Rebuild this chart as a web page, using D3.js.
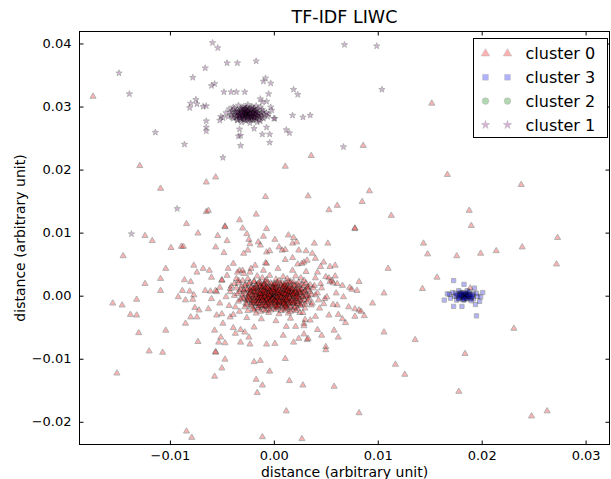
<!DOCTYPE html>
<html lang="en">
<head>
<meta charset="UTF-8">
<title>TF-IDF LIWC</title>
<script src="https://d3js.org/d3.v7.min.js"></script>
<style>
  body { margin: 0; background: #fff; }
  text { font-family: "DejaVu Sans", sans-serif; }
</style>
</head>
<body>
<script>
// tick labels
const xTicks = [-0.01, 0.00, 0.01, 0.02, 0.03];
const yTicks = [-0.02, -0.01, 0.00, 0.01, 0.02, 0.03, 0.04];
const legendNames = ["cluster 0", "cluster 3", "cluster 2", "cluster 1"];

// cluster 0 (red triangles): dense core, halo, spread and outliers
const cluster0 = [
  [-0.0016,0.0031],[-0.0004,0.0032],[0.0009,0.0030],[0.0021,0.0031],
  [-0.0025,0.0027],[-0.0011,0.0028],[0.0002,0.0026],[0.0013,0.0027],[0.0026,0.0028],
  [-0.0030,0.0024],[-0.0019,0.0023],[-0.0007,0.0025],[0.0005,0.0024],[0.0016,0.0023],[0.0029,0.0024],
  [-0.0034,0.0020],[-0.0023,0.0021],[-0.0014,0.0022],[-0.0003,0.0020],[0.0008,0.0021],[0.0019,0.0022],[0.0031,0.0020],
  [-0.0027,0.0018],[-0.0017,0.0017],[-0.0009,0.0019],[0.0000,0.0018],[0.0011,0.0017],[0.0022,0.0018],[0.0035,0.0017],
  [-0.0031,0.0015],[-0.0021,0.0014],[-0.0013,0.0016],[-0.0005,0.0015],[0.0004,0.0014],[0.0013,0.0016],[0.0024,0.0015],[0.0033,0.0014],
  [-0.0036,0.0012],[-0.0025,0.0011],[-0.0016,0.0013],[-0.0008,0.0012],[0.0001,0.0011],[0.0009,0.0013],[0.0017,0.0012],[0.0027,0.0011],[0.0038,0.0012],
  [-0.0029,0.0009],[-0.0020,0.0008],[-0.0012,0.0010],[-0.0004,0.0009],[0.0005,0.0008],[0.0013,0.0010],[0.0021,0.0009],[0.0030,0.0008],
  [-0.0033,0.0006],[-0.0023,0.0005],[-0.0015,0.0007],[-0.0007,0.0006],[0.0001,0.0005],[0.0009,0.0007],[0.0017,0.0006],[0.0025,0.0005],[0.0035,0.0006],
  [-0.0027,0.0003],[-0.0018,0.0002],[-0.0010,0.0004],[-0.0002,0.0003],[0.0006,0.0002],[0.0014,0.0004],[0.0022,0.0003],[0.0031,0.0002],
  [-0.0038,0.0000],[-0.0024,-0.0001],[-0.0014,0.0001],[-0.0006,0.0000],[0.0003,-0.0001],[0.0011,0.0001],[0.0019,0.0000],[0.0028,-0.0001],[0.0040,0.0001],
  [-0.0030,-0.0003],[-0.0019,-0.0004],[-0.0011,-0.0002],[-0.0003,-0.0003],[0.0007,-0.0004],[0.0015,-0.0002],[0.0024,-0.0003],[0.0034,-0.0004],
  [-0.0026,-0.0006],[-0.0016,-0.0007],[-0.0008,-0.0005],[0.0000,-0.0006],[0.0009,-0.0007],[0.0018,-0.0005],[0.0029,-0.0006],
  [-0.0034,-0.0009],[-0.0021,-0.0010],[-0.0012,-0.0008],[-0.0004,-0.0009],[0.0005,-0.0010],[0.0013,-0.0008],[0.0022,-0.0009],[0.0032,-0.0010],
  [-0.0027,-0.0012],[-0.0017,-0.0013],[-0.0008,-0.0011],[0.0001,-0.0012],[0.0010,-0.0013],[0.0019,-0.0011],[0.0027,-0.0012],
  [-0.0022,-0.0015],[-0.0012,-0.0016],[-0.0003,-0.0014],[0.0006,-0.0015],[0.0015,-0.0016],[0.0025,-0.0014],[0.0036,-0.0015],
  [-0.0028,-0.0018],[-0.0016,-0.0019],[-0.0007,-0.0017],[0.0003,-0.0018],[0.0012,-0.0019],[0.0021,-0.0017],
  [-0.0020,-0.0021],[-0.0010,-0.0022],[0.0000,-0.0020],[0.0009,-0.0021],[0.0018,-0.0022],[0.0030,-0.0020],
  [-0.0025,-0.0024],[-0.0013,-0.0025],[-0.0003,-0.0023],[0.0007,-0.0024],[0.0016,-0.0025],
  [-0.0017,-0.0028],[-0.0005,-0.0027],[0.0005,-0.0029],[0.0014,-0.0028],[0.0025,-0.0027],
  [-0.0012,0.0013],[-0.0003,0.0013],[0.0006,0.0012],[0.0015,0.0013],
  [-0.0016,0.0010],[-0.0007,0.0010],[0.0002,0.0009],[0.0011,0.0010],
  [-0.0011,0.0007],[-0.0002,0.0007],[0.0007,0.0006],[0.0014,0.0007],
  [-0.0014,0.0004],[-0.0005,0.0004],[0.0004,0.0003],[0.0012,0.0004],[0.0019,0.0004],
  [-0.0009,0.0001],[0.0000,0.0001],[0.0008,0.0000],[0.0016,0.0001],
  [-0.0015,-0.0002],[-0.0006,-0.0002],[0.0003,-0.0002],[0.0011,-0.0003],
  [-0.0011,-0.0005],[-0.0002,-0.0005],[0.0006,-0.0005],[0.0014,-0.0006],
  [-0.0014,-0.0008],[-0.0005,-0.0008],[0.0003,-0.0008],[0.0012,-0.0009],
  [-0.0009,-0.0011],[0.0000,-0.0011],[0.0008,-0.0011],[0.0016,-0.0012],
  [-0.0005,-0.0014],[0.0004,-0.0014],
  [-0.0019,0.0022],[-0.0008,0.0023],[0.0003,0.0021],[0.0014,0.0022],[0.0024,0.0021],
  [-0.0024,0.0019],[-0.0013,0.0020],[-0.0002,0.0018],[0.0006,0.0019],[0.0016,0.0020],[0.0027,0.0018],
  [-0.0028,0.0016],[-0.0017,0.0015],[-0.0009,0.0017],[0.0001,0.0016],[0.0009,0.0015],[0.0019,0.0017],[0.0029,0.0016],
  [-0.0022,0.0013],[-0.0011,0.0012],[-0.0001,0.0014],[0.0012,0.0013],[0.0022,0.0012],[0.0032,0.0013],
  [-0.0026,0.0010],[-0.0018,0.0011],[-0.0009,0.0009],[0.0000,0.0010],[0.0008,0.0011],[0.0017,0.0009],[0.0026,0.0010],
  [-0.0029,0.0007],[-0.0019,0.0006],[-0.0004,0.0008],[0.0004,0.0007],[0.0012,0.0006],[0.0021,0.0008],[0.0030,0.0007],
  [-0.0023,0.0004],[-0.0013,0.0003],[-0.0007,0.0005],[0.0001,0.0004],[0.0009,0.0003],[0.0017,0.0005],[0.0026,0.0004],
  [-0.0030,0.0001],[-0.0019,0.0000],[-0.0011,0.0002],[-0.0003,0.0001],[0.0006,0.0000],[0.0014,0.0002],[0.0023,0.0001],[0.0033,0.0000],
  [-0.0025,-0.0002],[-0.0014,-0.0003],[-0.0008,-0.0001],[0.0000,-0.0002],[0.0009,-0.0003],[0.0019,-0.0001],[0.0028,-0.0002],
  [-0.0029,-0.0005],[-0.0021,-0.0006],[-0.0013,-0.0004],[-0.0005,-0.0005],[0.0004,-0.0006],[0.0012,-0.0004],[0.0022,-0.0005],
  [-0.0025,-0.0008],[-0.0017,-0.0009],[-0.0008,-0.0007],[0.0001,-0.0008],[0.0009,-0.0009],[0.0018,-0.0007],[0.0027,-0.0008],
  [-0.0021,-0.0011],[-0.0013,-0.0012],[-0.0004,-0.0010],[0.0005,-0.0011],[0.0014,-0.0012],[0.0023,-0.0010],
  [-0.0026,-0.0014],[-0.0016,-0.0013],[-0.0008,-0.0015],[0.0001,-0.0014],[0.0011,-0.0015],[0.0020,-0.0013],[0.0030,-0.0014],
  [-0.0021,-0.0017],[-0.0011,-0.0018],[-0.0002,-0.0016],[0.0008,-0.0017],[0.0016,-0.0018],[0.0026,-0.0016],
  [-0.0015,-0.0020],[-0.0005,-0.0021],[0.0004,-0.0019],[0.0013,-0.0020],[0.0023,-0.0021],
  [-0.0019,-0.0023],[-0.0008,-0.0024],[0.0002,-0.0022],[0.0011,-0.0023],[0.0021,-0.0024],
  [-0.0019,0.0012],[-0.0010,0.0015],[-0.0001,0.0012],[0.0007,0.0016],[0.0016,0.0014],[0.0024,0.0010],
  [-0.0022,0.0007],[-0.0013,0.0008],[-0.0005,0.0011],[0.0003,0.0008],[0.0011,0.0009],[0.0020,0.0007],[0.0028,0.0005],
  [-0.0024,0.0002],[-0.0016,0.0005],[-0.0008,0.0003],[0.0000,0.0006],[0.0008,0.0004],[0.0015,0.0006],[0.0025,0.0002],
  [-0.0020,-0.0002],[-0.0012,0.0000],[-0.0004,-0.0001],[0.0005,0.0001],[0.0013,-0.0001],[0.0021,-0.0002],[0.0031,-0.0001],
  [-0.0023,-0.0007],[-0.0015,-0.0005],[-0.0007,-0.0007],[0.0002,-0.0004],[0.0010,-0.0006],[0.0017,-0.0008],[0.0025,-0.0006],
  [-0.0019,-0.0012],[-0.0010,-0.0009],[-0.0002,-0.0012],[0.0007,-0.0010],[0.0015,-0.0010],[0.0023,-0.0013],
  [-0.0014,-0.0016],[-0.0005,-0.0018],[0.0004,-0.0016],[0.0012,-0.0015],[0.0020,-0.0019],
  [-0.0015,0.0019],[-0.0006,0.0021],[0.0003,0.0017],[0.0012,0.0020],[0.0020,0.0016],
  [-0.0032,0.0010],[-0.0035,0.0003],[-0.0032,-0.0006],[0.0033,0.0010],[0.0036,0.0002],[0.0033,-0.0007],
  [-0.0009,0.0005],[-0.0003,0.0002],[0.0004,-0.0003],[0.0010,0.0003],[-0.0006,-0.0004],[0.0006,0.0005],
  [0.0001,-0.0007],[-0.0001,0.0009],[0.0013,-0.0004],[-0.0012,-0.0003],[-0.0017,0.0001],[0.0018,0.0002],
  [-0.0007,0.0014],[0.0009,-0.0013],[-0.0011,-0.0014],[0.0014,0.0011],
  [-0.0020,0.0011],[-0.0013,0.0014],[-0.0006,0.0012],[0.0002,0.0013],[0.0010,0.0014],[0.0018,0.0011],
  [-0.0018,0.0006],[-0.0010,0.0008],[-0.0003,0.0006],[0.0005,0.0009],[0.0013,0.0008],[0.0021,0.0005],
  [-0.0021,0.0001],[-0.0013,0.0003],[-0.0005,0.0002],[0.0003,0.0004],[0.0011,0.0002],[0.0019,0.0003],
  [-0.0017,-0.0003],[-0.0009,-0.0002],[-0.0001,-0.0004],[0.0007,-0.0002],[0.0015,-0.0003],[0.0022,-0.0001],
  [-0.0019,-0.0008],[-0.0011,-0.0007],[-0.0003,-0.0007],[0.0005,-0.0008],[0.0012,-0.0007],[0.0020,-0.0009],
  [-0.0015,-0.0011],[-0.0006,-0.0012],[0.0002,-0.0010],[0.0010,-0.0012],[0.0018,-0.0012],
  [-0.0010,0.0018],[0.0001,0.0019],[0.0010,0.0018],[-0.0008,-0.0016],[0.0002,-0.0017],[0.0011,-0.0017],
  [-0.0023,0.0009],[0.0023,-0.0004],[-0.0024,-0.0004],[0.0024,0.0007],
  [-0.0045,0.0032],[-0.0041,0.0015],[-0.0046,-0.0002],[-0.0043,-0.0016],[-0.0039,-0.0030],[-0.0033,0.0040],
  [-0.0022,0.0043],[-0.0010,0.0040],[0.0004,0.0043],[0.0018,0.0040],[0.0031,0.0038],[0.0040,0.0028],
  [0.0046,0.0012],[0.0049,-0.0005],[0.0044,-0.0020],[0.0040,-0.0033],[0.0030,-0.0038],[0.0016,-0.0036],
  [0.0002,-0.0040],[-0.0012,-0.0037],[-0.0026,-0.0035],[-0.0050,0.0024],[-0.0055,0.0006],[-0.0052,-0.0012],
  [0.0054,0.0022],[0.0057,-0.0014],[-0.0036,0.0027],[0.0039,0.0016],[0.0037,-0.0012],[-0.0037,-0.0018],
  [-0.0008,0.0052],[0.0012,-0.0049],[0.0023,0.0050],[-0.0019,-0.0050],[0.0060,0.0004],[-0.0060,-0.0005],
  [0.0028,-0.0027],[-0.0033,-0.0025],[0.0042,0.0004],[-0.0042,0.0006],
  [-0.0026,0.0098],[-0.0010,0.0094],[0.0014,0.0096],[0.0019,0.0092],[0.0022,0.0085],[0.0018,0.0083],
  [0.0078,0.0106],[-0.0045,0.0087],[-0.0024,0.0089],[-0.0023,0.0082],[-0.0015,0.0085],[-0.0013,0.0080],
  [0.0001,0.0089],[0.0005,0.0077],[0.0039,0.0083],[0.0052,0.0083],
  [-0.0056,0.0077],[-0.0048,0.0068],[-0.0029,0.0067],[-0.0025,0.0072],[-0.0007,0.0069],[-0.0004,0.0071],
  [0.0008,0.0072],[0.0011,0.0073],[0.0024,0.0072],[0.0031,0.0071],[0.0037,0.0067],
  [-0.0077,0.0048],[-0.0074,0.0037],[-0.0086,0.0025],[-0.0080,0.0022],[-0.0092,-0.0002],[-0.0085,-0.0007],
  [-0.0078,-0.0006],[-0.0077,0.0001],[-0.0088,0.0008],[-0.0081,0.0007],[-0.0066,0.0008],[-0.0061,0.0007],[-0.0056,0.0008],
  [-0.0068,0.0043],[-0.0062,0.0040],[-0.0060,0.0029],[-0.0050,0.0025],[-0.0052,0.0013],[-0.0044,0.0043],
  [-0.0039,0.0051],[-0.0035,0.0037],[-0.0030,0.0040],[-0.0038,0.0019],[-0.0042,0.0011],[-0.0034,0.0024],
  [-0.0076,-0.0019],[-0.0072,-0.0023],[-0.0063,-0.0021],[-0.0080,-0.0034],[-0.0085,-0.0044],[-0.0074,-0.0034],
  [-0.0055,-0.0031],[-0.0050,-0.0029],[-0.0042,-0.0034],[-0.0049,-0.0044],
  [-0.0057,-0.0055],[-0.0051,-0.0066],[-0.0047,-0.0075],[-0.0053,-0.0074],[-0.0039,-0.0051],[-0.0032,-0.0054],
  [-0.0037,-0.0060],[-0.0028,-0.0058],[-0.0032,-0.0074],[-0.0024,-0.0066],[-0.0023,-0.0077],[-0.0056,-0.0089],
  [-0.0007,-0.0077],[0.0001,-0.0076],[0.0009,-0.0063],[0.0019,-0.0074],[0.0024,-0.0068],[0.0032,-0.0070],
  [0.0021,-0.0049],[0.0029,-0.0044],[0.0035,-0.0039],[0.0042,-0.0054],[0.0046,-0.0063],[0.0050,-0.0081],
  [0.0058,-0.0055],[0.0062,-0.0066],[0.0053,-0.0031],[0.0066,-0.0037],[0.0069,-0.0043],[0.0078,-0.0033],
  [0.0082,-0.0023],[0.0072,-0.0018],[0.0078,-0.0021],[0.0084,-0.0025],[0.0061,-0.0015],[0.0048,-0.0013],
  [0.0043,-0.0007],[0.0051,-0.0002],[0.0067,-0.0002],[0.0073,0.0013],[0.0075,0.0010],[0.0080,0.0008],[0.0082,0.0022],
  [0.0059,0.0048],[0.0066,0.0016],[0.0061,0.0019],[0.0056,0.0024],[0.0048,0.0053],[0.0050,0.0030],
  [0.0042,0.0037],[0.0045,0.0019],[0.0032,0.0056],[0.0040,0.0059],[0.0045,0.0046],[0.0018,0.0060],
  [0.0027,0.0051],[0.0011,0.0057],[-0.0007,0.0051],[-0.0018,0.0048],[-0.0023,0.0037],[-0.0029,0.0035],
  [0.0054,0.0046],[0.0029,0.0053],[0.0053,0.0028],[0.0059,0.0031],[0.0057,0.0020],[0.0087,-0.0032],
  [0.0062,-0.0030],[0.0029,-0.0048],[0.0033,-0.0068],[0.0029,-0.0061],[0.0050,-0.0086],
  [-0.0174,0.0316],[-0.0129,0.0206],[-0.0109,0.0170],[-0.0084,0.0114],[-0.0065,0.0180],[-0.0056,0.0188],
  [-0.0065,0.0133],[-0.0063,0.0135],[-0.0047,0.0110],[-0.0033,0.0120],[-0.0030,0.0107],[-0.0017,0.0129],
  [0.0152,0.0305],[0.0086,0.0238],[0.0036,0.0222],[0.0167,0.0192],[0.0092,0.0166],[0.0085,0.0149],
  [0.0033,0.0158],[0.0053,0.0136],[0.0061,0.0143],[0.0113,0.0127],[0.0078,0.0107],[0.0188,0.0135],[0.0190,0.0111],
  [0.0238,0.0176],[0.0144,0.0083],[0.0148,0.0066],[0.0176,0.0063],[0.0199,0.0067],[0.0214,0.0071],[0.0239,0.0077],
  [0.0110,0.0043],[0.0157,0.0029],[0.0143,0.0011],[0.0106,0.0004],[0.0095,-0.0012],[0.0106,-0.0058],
  [0.0136,-0.0070],[0.0117,-0.0109],[0.0126,-0.0125],[0.0184,-0.0092],[0.0231,-0.0052],[0.0178,-0.0152],
  [0.0058,-0.0144],[0.0028,-0.0142],[0.0082,-0.0186],[0.0263,-0.0183],[0.0248,-0.0191],[0.0027,-0.0227],
  [0.0273,0.0092],[0.0272,0.0050],[0.0189,0.0012],
  [-0.0008,0.0157],[0.0011,0.0205],[-0.0073,0.0099],[-0.0047,0.0109],[-0.0007,0.0106],[-0.0124,0.0095],
  [-0.0117,0.0087],[-0.0099,0.0076],[-0.0089,0.0078],[-0.0087,0.0078],[-0.0145,0.0063],[-0.0104,0.0043],
  [-0.0124,0.0019],[-0.0109,0.0027],[-0.0109,0.0008],[-0.0155,-0.0012],[-0.0146,-0.0015],[-0.0138,-0.0030],
  [-0.0132,-0.0031],[-0.0132,-0.0006],[-0.0130,-0.0059],[-0.0104,-0.0055],[-0.0120,-0.0088],[-0.0107,-0.0090],
  [-0.0151,-0.0123],[-0.0073,-0.0073],[-0.0056,-0.0090],[-0.0047,-0.0101],[-0.0050,-0.0115],[-0.0057,-0.0128],
  [-0.0019,-0.0105],[-0.0013,-0.0103],[-0.0004,-0.0120],[-0.0017,-0.0133],[-0.0011,-0.0142],[-0.0016,-0.0154],
  [0.0011,-0.0100],[0.0015,-0.0135],[0.0012,-0.0183],[-0.0084,-0.0215],[-0.0079,-0.0225],[-0.0011,-0.0224],
  [-0.0054,0.0095]
];

// cluster 3 (blue squares)
const cluster3 = [
  [0.0178,0.0008],[0.0186,0.0008],
  [0.0172,0.0005],[0.0180,0.0005],[0.0188,0.0006],[0.0195,0.0004],
  [0.0169,0.0002],[0.0177,0.0002],[0.0184,0.0002],[0.0191,0.0001],
  [0.0174,-0.0001],[0.0181,-0.0001],[0.0188,-0.0002],[0.0196,-0.0001],
  [0.0170,-0.0004],[0.0178,-0.0004],[0.0185,-0.0004],[0.0192,-0.0005],
  [0.0176,-0.0007],[0.0183,-0.0007],[0.0190,-0.0008],
  [0.0182,0.0001],[0.0186,-0.0002],[0.0179,0.0003],[0.0184,0.0004],
  [0.0188,0.0001],[0.0181,-0.0003],[0.0185,0.0000],[0.0183,-0.0005],
  [0.0180,0.0003],[0.0187,0.0004],[0.0176,0.0000],[0.0183,0.0002],[0.0190,-0.0003],[0.0179,-0.0002],
  [0.0186,0.0001],[0.0182,-0.0006],[0.0189,-0.0005],[0.0175,0.0004],[0.0192,0.0003],[0.0184,-0.0001],
  [0.0181,0.0002],[0.0185,0.0003],[0.0187,-0.0001],[0.0183,-0.0003],[0.0179,0.0000],
  [0.0189,0.0002],[0.0182,0.0005],[0.0186,-0.0005],[0.0178,-0.0005],[0.0191,-0.0001],
  [0.0173,0.0024],[0.0183,0.0018],[0.0193,0.0012],[0.0164,-0.0007],[0.0173,-0.0017],[0.0181,-0.0017],
  [0.0195,-0.0032],[0.0198,-0.0009],[0.0199,-0.0002],[0.0194,-0.0014],[0.0167,0.0003],[0.0201,0.0005]
];

// cluster 2 (green circles): no points visible in the picture
const cluster2 = [];

// cluster 1 (purple stars)
const cluster1 = [
  [-0.0034,0.0302],[-0.0025,0.0303],[-0.0017,0.0301],
  [-0.0039,0.0299],[-0.0030,0.0298],[-0.0021,0.0300],[-0.0013,0.0299],
  [-0.0043,0.0296],[-0.0035,0.0295],[-0.0027,0.0296],[-0.0019,0.0297],[-0.0011,0.0295],
  [-0.0040,0.0293],[-0.0032,0.0294],[-0.0025,0.0292],[-0.0018,0.0293],[-0.0010,0.0292],
  [-0.0046,0.0290],[-0.0037,0.0291],[-0.0029,0.0289],[-0.0022,0.0290],[-0.0015,0.0289],[-0.0007,0.0290],
  [-0.0041,0.0287],[-0.0033,0.0286],[-0.0026,0.0287],[-0.0019,0.0288],[-0.0012,0.0286],
  [-0.0044,0.0284],[-0.0036,0.0283],[-0.0028,0.0285],[-0.0021,0.0284],[-0.0014,0.0283],[-0.0006,0.0284],
  [-0.0039,0.0281],[-0.0031,0.0280],[-0.0024,0.0281],[-0.0017,0.0280],[-0.0010,0.0281],
  [-0.0035,0.0278],[-0.0027,0.0277],[-0.0020,0.0278],[-0.0013,0.0277],
  [-0.0031,0.0275],[-0.0023,0.0274],[-0.0016,0.0275],
  [-0.0030,0.0292],[-0.0024,0.0290],[-0.0028,0.0286],[-0.0021,0.0288],[-0.0033,0.0289],[-0.0026,0.0294],
  [-0.0019,0.0284],[-0.0031,0.0283],[-0.0023,0.0280],[-0.0027,0.0297],[-0.0035,0.0286],[-0.0017,0.0291],
  [-0.0038,0.0297],[-0.0029,0.0300],[-0.0022,0.0298],[-0.0015,0.0296],[-0.0041,0.0291],[-0.0034,0.0292],
  [-0.0026,0.0291],[-0.0019,0.0292],[-0.0012,0.0290],[-0.0038,0.0287],[-0.0030,0.0288],[-0.0023,0.0287],
  [-0.0016,0.0286],[-0.0009,0.0287],[-0.0040,0.0283],[-0.0033,0.0282],[-0.0025,0.0284],[-0.0018,0.0282],
  [-0.0011,0.0283],[-0.0035,0.0279],[-0.0028,0.0280],[-0.0021,0.0279],[-0.0014,0.0279],[-0.0031,0.0295],
  [-0.0024,0.0296],[-0.0017,0.0294],[-0.0028,0.0290],[-0.0021,0.0285],[-0.0029,0.0284],[-0.0024,0.0288],
  [-0.0032,0.0297],[-0.0026,0.0299],[-0.0020,0.0295],[-0.0036,0.0292],[-0.0029,0.0294],[-0.0023,0.0293],
  [-0.0016,0.0290],[-0.0033,0.0287],[-0.0027,0.0289],[-0.0020,0.0290],[-0.0014,0.0287],[-0.0036,0.0284],
  [-0.0030,0.0286],[-0.0023,0.0285],[-0.0016,0.0284],[-0.0032,0.0281],[-0.0026,0.0282],[-0.0019,0.0281],
  [-0.0027,0.0292],[-0.0022,0.0283],[-0.0025,0.0286],[-0.0031,0.0290],[-0.0018,0.0288],[-0.0029,0.0279],
  [-0.0030,0.0291],[-0.0025,0.0293],[-0.0020,0.0291],[-0.0033,0.0285],[-0.0027,0.0287],[-0.0022,0.0289],
  [-0.0017,0.0286],[-0.0029,0.0282],[-0.0024,0.0283],[-0.0035,0.0290],[-0.0028,0.0296],[-0.0022,0.0296],
  [-0.0031,0.0287],[-0.0019,0.0283],[-0.0025,0.0279],
  [-0.0149,0.0353],[-0.0139,0.0320],[-0.0114,0.0259],[-0.0086,0.0240],[-0.0059,0.0401],[-0.0054,0.0393],
  [-0.0078,0.0346],[-0.0066,0.0361],[-0.0060,0.0333],[-0.0057,0.0336],[-0.0045,0.0369],[-0.0035,0.0369],
  [-0.0017,0.0372],[-0.0081,0.0298],[-0.0080,0.0305],[-0.0075,0.0311],[-0.0074,0.0304],[-0.0068,0.0300],
  [-0.0065,0.0301],[-0.0065,0.0277],[-0.0065,0.0267],[-0.0065,0.0261],[-0.0049,0.0219],[-0.0032,0.0238],
  [-0.0034,0.0253],[-0.0048,0.0323],[-0.0041,0.0323],[-0.0036,0.0323],[-0.0028,0.0323],
  [-0.0010,0.0340],[-0.0008,0.0345],[-0.0003,0.0337],[0.0019,0.0327],[0.0023,0.0319],[0.0018,0.0286],
  [0.0028,0.0283],[0.0035,0.0286],[0.0001,0.0281],[0.0012,0.0263],[0.0015,0.0258],[-0.0004,0.0256],
  [-0.0004,0.0243],[-0.0011,0.0256],[-0.0051,0.0284],[-0.0052,0.0278],[-0.0049,0.0282],[-0.0033,0.0264],
  [-0.0032,0.0254],[-0.0013,0.0312],[-0.0011,0.0307],[-0.0007,0.0308],[-0.0005,0.0320],[0.0000,0.0281],
  [-0.0007,0.0267],[-0.0019,0.0265],[-0.0003,0.0299],[-0.0002,0.0294],[-0.0005,0.0288],
  [0.0068,0.0398],[0.0099,0.0396],[0.0104,0.0327],[0.0067,0.0236],[-0.0093,0.0138],[-0.0137,0.0098]
];

// cluster centres, drawn as black x
const centroids = [[-0.0001,-0.0001],[0.0184,0.0000],[-0.0026,0.0288]];

const W = 611, H = 479;
const margin = { top: 31, right: 2, bottom: 35, left: 79 };
const width = W - margin.left - margin.right;
const height = H - margin.top - margin.bottom;

const svg = d3.select("body").append("svg")
  .attr("width", W).attr("height", H)
  .append("g")
  .attr("transform", "translate(" + (margin.left + 0.5) + "," + (margin.top + 0.5) + ")");

const x = d3.scaleLinear().domain([-0.0187, 0.0323]).range([0, width]);
const y = d3.scaleLinear().domain([-0.0236, 0.0419]).range([height, 0]);

svg.append("clipPath").attr("id", "plotclip")
  .append("rect").attr("width", width).attr("height", height);

const series = [
  { name: legendNames[0], data: cluster0, type: d3.symbolTriangle, color: "red", size: 16, lsize: 30 },
  { name: legendNames[1], data: cluster3, type: d3.symbolSquare, color: "blue", size: 18, lsize: 32 },
  { name: legendNames[2], data: cluster2, type: d3.symbolCircle, color: "green", size: 18, lsize: 34 },
  { name: legendNames[3], data: cluster1, type: d3.symbolStar, color: "purple", size: 12, lsize: 22 }
];

const plot = svg.append("g").attr("clip-path", "url(#plotclip)");

series.forEach(function (s) {
  plot.append("g").selectAll("path").data(s.data).enter().append("path")
    .attr("d", d3.symbol().type(s.type).size(s.size))
    .attr("transform", function (d) { return "translate(" + x(d[0]) + "," + y(d[1]) + ")"; })
    .attr("fill", s.color)
    .attr("stroke", "black")
    .attr("stroke-width", 1)
    .attr("opacity", 0.3);
});

plot.append("g").selectAll("path").data(centroids).enter().append("path")
  .attr("d", d3.symbol().type(d3.symbolX).size(30))
  .attr("transform", function (d) { return "translate(" + x(d[0]) + "," + y(d[1]) + ")"; })
  .attr("fill", "none")
  .attr("stroke", "black")
  .attr("stroke-width", 0.8);

// axes, ticks pointing inwards on all four sides
const fmt = d3.format(".2f");
function styleAxis(g) {
  g.attr("font-size", null).attr("font-family", null);
  g.select(".domain").remove();
  g.selectAll("text").style("font-size", "13px").attr("fill", "black")
    .style("font-family", "'DejaVu Sans', sans-serif");
  g.selectAll("line").attr("stroke", "black");
}
svg.append("g").attr("transform", "translate(0," + height + ")")
  .call(d3.axisBottom(x).tickValues(xTicks).tickSize(-4).tickPadding(6).tickFormat(fmt))
  .call(styleAxis);
svg.append("g")
  .call(d3.axisTop(x).tickValues(xTicks).tickSize(-4).tickFormat(""))
  .call(styleAxis);
svg.append("g")
  .call(d3.axisLeft(y).tickValues(yTicks).tickSize(-4).tickPadding(8).tickFormat(fmt))
  .call(styleAxis);
svg.append("g").attr("transform", "translate(" + width + ",0)")
  .call(d3.axisRight(y).tickValues(yTicks).tickSize(-4).tickFormat(""))
  .call(styleAxis);

svg.append("rect")
  .attr("width", width).attr("height", height)
  .attr("fill", "none").attr("stroke", "black").attr("stroke-width", 1);

// titles
svg.append("text").attr("x", width / 2).attr("y", -9)
  .attr("text-anchor", "middle").attr("font-size", 17.5).text("TF-IDF LIWC");
svg.append("text").attr("x", width / 2).attr("y", height + 32)
  .attr("text-anchor", "middle").attr("font-size", 14).text("distance (arbitrary unit)");
svg.append("text").attr("transform", "rotate(-90)")
  .attr("x", -height / 2).attr("y", -55)
  .attr("text-anchor", "middle").attr("font-size", 14).text("distance (arbitrary unit)");

// legend
const legend = svg.append("g").attr("transform", "translate(394,7)");
legend.append("rect").attr("width", 134).attr("height", 99)
  .attr("fill", "white").attr("stroke", "black").attr("stroke-width", 1);
series.forEach(function (s, i) {
  const row = legend.append("g").attr("transform", "translate(0," + (15 + i * 23.8) + ")");
  [12, 34].forEach(function (mx) {
    row.append("path")
      .attr("d", d3.symbol().type(s.type).size(s.lsize))
      .attr("transform", "translate(" + mx + ",0)")
      .attr("fill", s.color).attr("stroke", "black").attr("stroke-width", 0.5)
      .attr("opacity", 0.3);
  });
  row.append("text").attr("x", 52).attr("dy", "0.35em")
    .attr("font-size", 16).text(s.name);
});
</script>
</body>
</html>
